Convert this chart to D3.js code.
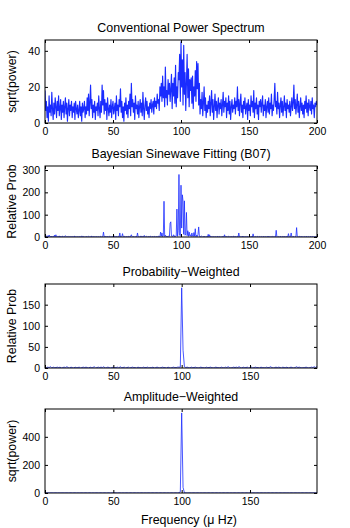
<!DOCTYPE html>
<html>
<head>
<meta charset="utf-8">
<script src="https://cdn.jsdelivr.net/npm/d3@7/dist/d3.min.js"></script>
<style>
body { margin: 0; background: #fff; }
text { font-family: "Liberation Sans", Arial, sans-serif; fill: #000; }
</style>
</head>
<body>
<div id="chart"></div>
<script>
// Values.

// Conventional power spectrum, sqrt(power), one value every 0.5 uHz from 0 to 200
const powerSpectrum = [
  18,7,12,3,9,1,15,6,10,4,17,8,2,11,5,14,9,3,12,7,
  15,4,8,13,2,10,6,12,3,9,14,5,11,1,8,13,4,10,7,12,
  3,9,6,11,2,12,8,5,10,3,7,12,4,9,1,11,6,8,12,3,
  9,5,14,7,16,4,11,21,8,13,3,10,6,12,2,9,7,11,4,15,
  8,3,12,6,21,10,18,5,13,7,11,2,14,8,4,10,6,13,3,9,
  12,5,8,11,2,15,7,10,4,13,9,19,6,12,3,9,1,11,7,14,
  5,10,3,12,8,16,4,22,9,13,6,11,2,15,8,10,5,12,3,9,
  13,6,11,4,17,8,2,10,14,7,12,5,9,3,11,8,13,6,10,12,
  5,14,9,12,8,16,11,13,7,20,15,22,12,26,14,20,9,31,14,18,
  10,24,16,22,12,19,27,8,22,15,25,11,32,9,20,14,28,24,38,12,
  45,20,35,10,43,16,28,7,22,38,14,30,9,24,18,25,11,26,8,20,
  15,29,12,34,19,33,10,22,5,13,8,17,4,11,20,7,14,3,10,6,
  12,8,15,4,11,18,6,13,2,9,16,7,12,3,10,14,5,11,8,13,
  4,10,17,6,12,9,14,3,11,7,15,5,12,2,9,13,6,10,8,14,
  5,12,9,20,7,13,4,11,16,6,10,3,12,8,14,5,9,11,2,13,
  7,10,4,15,9,12,6,18,3,11,8,14,5,10,2,12,9,13,6,11,
  15,4,10,7,13,3,9,12,6,14,5,11,8,16,4,10,7,13,22,9,
  12,5,17,8,11,3,10,14,6,12,4,9,15,7,11,3,13,8,10,6,
  12,4,9,14,7,11,21,8,13,5,10,16,6,12,3,9,14,7,11,5,
  10,3,12,8,15,6,11,4,13,9,7,12,5,14,8,10,3,11,9,12,
  10
];

// Bayesian sinewave fitting (B07), relative probability, every 0.5 uHz from 0 to 200
const bayesProb = [
  8,2,1,6,1,0,9,2,1,4,0,1,3,0,8,1,10,2,1,3,
  1,5,0,2,1,0,4,1,0,2,6,1,0,1,3,0,1,2,0,1,
  2,0,1,4,0,1,0,2,1,0,3,1,0,1,5,0,1,2,0,1,
  0,2,1,0,3,1,0,1,4,0,1,2,0,1,0,3,1,0,2,1,
  0,1,3,0,1,2,22,1,0,4,1,0,2,1,0,3,1,0,1,2,
  0,1,4,0,1,2,0,1,3,0,18,1,0,2,15,1,0,3,1,0,
  2,1,0,3,1,0,4,10,1,0,2,1,0,1,3,0,18,2,1,0,
  1,5,0,2,1,0,7,1,0,3,1,0,2,1,0,4,1,0,2,1,
  0,3,1,0,2,1,0,4,1,0,22,3,18,1,5,160,2,8,1,3,
  2,1,5,3,62,68,4,2,3,10,1,6,2,5,125,3,30,280,8,5,
  232,40,189,160,12,162,8,15,110,6,28,3,22,5,10,2,18,4,1,20,
  3,37,1,8,2,12,45,3,1,2,4,1,0,2,1,3,0,1,2,0,
  12,1,10,0,2,1,0,3,1,0,2,1,0,1,3,0,1,2,0,1,
  0,2,1,0,10,1,0,2,1,0,3,1,0,1,2,0,1,4,0,1,
  2,0,1,3,0,18,1,0,2,1,0,4,1,0,2,1,0,3,1,0,
  1,2,0,3,1,0,14,1,0,2,1,0,3,1,0,2,1,0,1,2,
  0,1,3,0,1,2,0,1,4,0,1,2,0,1,0,3,1,0,2,1,
  30,1,0,2,1,0,3,1,0,2,1,0,4,1,0,2,1,0,15,1,
  0,2,18,1,0,3,1,0,2,1,42,2,0,1,3,0,1,2,0,1,
  0,2,1,0,3,1,0,1,2,0,1,3,0,1,2,0,1,0,2,1,
  0
];

// Probability-weighted spectrum, every 1 uHz from 0 to 199
const probWeighted = [
  3,1,2,1,3,0,2,1,1,2, 1,2,0,1,2,1,3,1,0,2,
  1,0,2,1,1,2,0,1,2,1, 2,1,0,2,1,1,3,0,1,2,
  1,2,1,3,0,1,2,1,0,1, 2,1,1,2,0,3,1,1,2,0,
  1,2,0,1,2,1,1,0,2,1, 1,0,2,1,1,2,0,1,1,2,
  0,1,2,1,0,1,2,1,1,0, 2,1,0,1,2,1,1,2,2,2,
  190,42,3,1,2,1,0,2,1,1, 2,1,0,1,2,1,1,0,2,1,
  1,2,1,0,1,2,1,1,0,2, 1,0,2,1,3,1,0,1,2,1,
  2,1,3,1,0,2,1,1,2,0, 1,2,0,1,2,1,1,0,2,1,
  1,0,2,1,1,3,1,0,1,2, 1,2,1,0,2,1,1,2,0,1,
  2,1,0,1,3,1,2,1,0,1, 1,2,1,0,1,2,1,3,1,4
];

// Amplitude-weighted spectrum, sqrt(power), every 1 uHz from 0 to 199
const ampWeighted = [
  2,1,1,0,1,1,0,1,1,0, 1,0,1,1,0,1,1,0,1,1,
  0,1,1,0,1,0,1,1,0,1, 1,0,1,1,0,1,0,1,1,0,
  1,1,0,1,1,0,1,1,0,1, 0,1,1,0,1,1,0,1,0,1,
  1,0,1,1,0,1,1,0,1,0, 1,1,0,1,0,1,1,0,1,1,
  0,1,1,0,1,1,0,1,1,0, 1,0,1,1,0,1,1,0,2,8,
  570,40,2,1,0,1,1,0,1,1, 0,1,1,0,1,0,1,1,0,1,
  1,0,1,1,0,1,1,0,1,0, 1,1,0,1,1,0,1,0,1,1,
  0,1,1,0,1,1,0,1,1,0, 1,0,1,1,0,1,1,0,1,1,
  0,1,0,1,1,0,1,1,0,1, 1,0,1,1,0,1,1,0,1,0,
  1,1,0,1,1,0,1,0,1,1, 0,1,1,0,1,1,0,1,1,1
];

const titles = ["Conventional Power Spectrum", "Bayesian Sinewave Fitting (B07)", "Probability\u2212Weighted", "Amplitude\u2212Weighted"];
const yLabels = ["sqrt(power)", "Relative Prob", "Relative Prob", "sqrt(power)"];
const yTickValues = [[0, 20, 40], [0, 100, 200, 300], [0, 50, 100, 150], [0, 200, 400]];
const xTickValues = [[0, 50, 100, 150, 200], [0, 50, 100, 150, 200], [0, 50, 100, 150], [0, 50, 100, 150]];

const width = 350;
const height = 528;
const plotLeft = 45;
const plotRight = 317;

// layout of the four axes (pixel boxes + axis limits)
const panels = [
  { values: powerSpectrum, step: 0.5, xMax: 200, yMax: 46, top: 40, bottom: 123, lw: 1.15 },
  { values: bayesProb, step: 0.5, xMax: 200, yMax: 318, top: 166, bottom: 237, lw: 0.8 },
  { values: probWeighted, step: 1, xMax: 199, yMax: 199, top: 284, bottom: 368, lw: 0.8 },
  { values: ampWeighted, step: 1, xMax: 199, yMax: 598, top: 409, bottom: 493, lw: 0.8 }
];

const svg = d3.select("#chart")
    .append("svg")
    .attr("width", width)
    .attr("height", height);

panels.forEach((p, k) => {
    const x = d3.scaleLinear().domain([0, p.xMax]).range([plotLeft, plotRight]);
    const y = d3.scaleLinear().domain([0, p.yMax]).range([p.bottom, p.top]);

    svg.append("clipPath")
        .attr("id", "clip" + k)
        .append("rect")
        .attr("x", plotLeft)
        .attr("y", p.top)
        .attr("width", plotRight - plotLeft)
        .attr("height", p.bottom - p.top);

    const line = d3.line()
        .x((d, i) => x(i * p.step))
        .y(d => y(d));

    svg.append("path")
        .datum(p.values)
        .attr("clip-path", "url(#clip" + k + ")")
        .attr("fill", "none")
        .attr("stroke", "#1a2cff")
        .attr("stroke-width", p.lw)
        .attr("stroke-linejoin", "round")
        .attr("d", line);

    // ticks point inwards like matlab, on all four sides
    const bottomAxis = svg.append("g")
        .attr("transform", `translate(0,${p.bottom})`)
        .call(d3.axisBottom(x).tickValues(xTickValues[k]).tickSizeInner(-3).tickSizeOuter(0).tickPadding(5));
    svg.append("g")
        .attr("transform", `translate(0,${p.top})`)
        .call(d3.axisTop(x).tickValues(xTickValues[k]).tickSizeInner(-3).tickSizeOuter(0).tickFormat(""));
    const leftAxis = svg.append("g")
        .attr("transform", `translate(${plotLeft},0)`)
        .call(d3.axisLeft(y).tickValues(yTickValues[k]).tickSizeInner(-3).tickSizeOuter(0).tickPadding(5));
    svg.append("g")
        .attr("transform", `translate(${plotRight},0)`)
        .call(d3.axisRight(y).tickValues(yTickValues[k]).tickSizeInner(-3).tickSizeOuter(0).tickFormat(""));

    svg.selectAll(".domain").remove();
    svg.selectAll(".tick line").attr("stroke", "#000");
    bottomAxis.selectAll("text").attr("font-size", 10.5).attr("font-family", null);
    leftAxis.selectAll("text").attr("font-size", 10.5).attr("font-family", null);

    svg.append("rect")
        .attr("x", plotLeft)
        .attr("y", p.top)
        .attr("width", plotRight - plotLeft)
        .attr("height", p.bottom - p.top)
        .attr("fill", "none")
        .attr("stroke", "#000")
        .attr("stroke-width", 1);

    svg.append("text")
        .attr("x", (plotLeft + plotRight) / 2)
        .attr("y", p.top - 8.5)
        .attr("text-anchor", "middle")
        .attr("font-size", 12.4)
        .text(titles[k]);

    svg.append("text")
        .attr("transform", `translate(16,${(p.top + p.bottom) / 2}) rotate(-90)`)
        .attr("text-anchor", "middle")
        .attr("font-size", 12.4)
        .text(yLabels[k]);
});

svg.append("text")
    .attr("x", 189)
    .attr("y", 523.5)
    .attr("text-anchor", "middle")
    .attr("font-size", 12.4)
    .text("Frequency (\u03bc Hz)");
</script>
</body>
</html>
